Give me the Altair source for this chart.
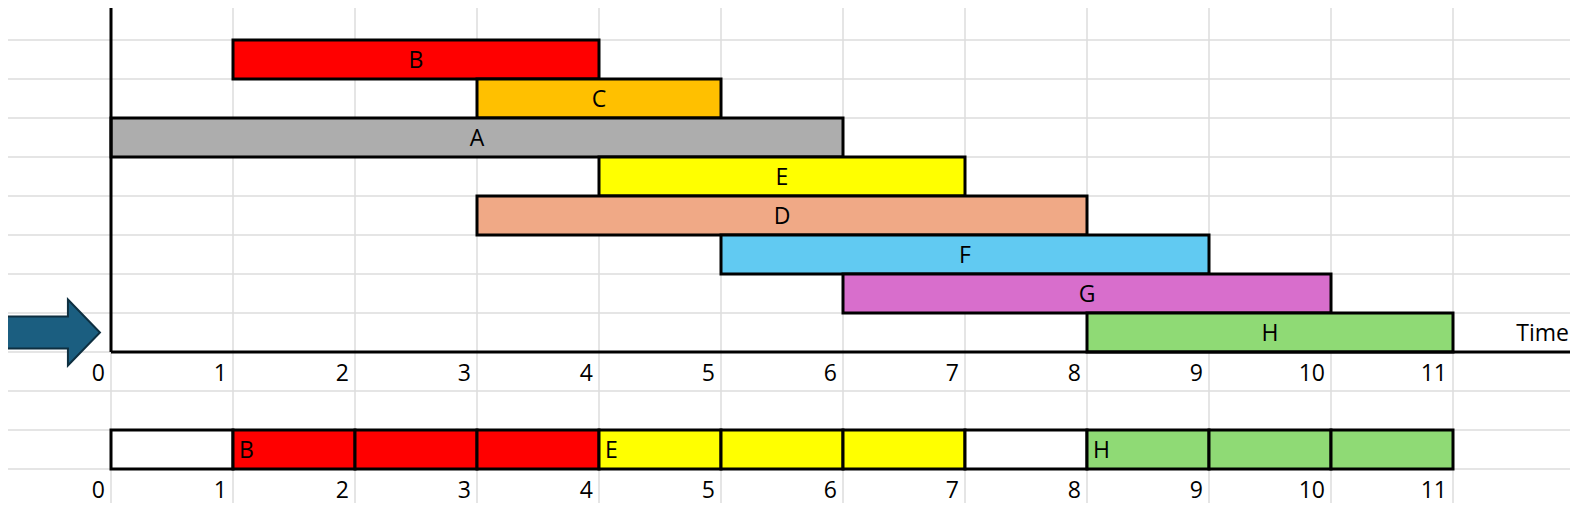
import altair as alt
import pandas as pd

# ---- data -------------------------------------------------------------
tasks = ["B", "C", "A", "E", "D", "F", "G", "H"]
task_start = [1, 3, 0, 4, 3, 5, 6, 8]
task_end = [4, 5, 6, 7, 8, 9, 10, 11]
task_row = [1, 2, 3, 4, 5, 6, 7, 8]
task_color = ["#FF0000", "#FFC000", "#ADADAD", "#FFFF00",
              "#F0A986", "#61CAF2", "#D86ECC", "#8FDA75"]

slot_start = [0, 1, 2, 3, 4, 5, 6, 7, 8, 9, 10]
slot_label = ["", "B", "", "", "E", "", "", "", "H", "", ""]
slot_color = ["#FFFFFF", "#FF0000", "#FF0000", "#FF0000", "#FFFF00", "#FFFF00",
              "#FFFF00", "#FFFFFF", "#8FDA75", "#8FDA75", "#8FDA75"]
slot_row = 11

tick_values = [0, 1, 2, 3, 4, 5, 6, 7, 8, 9, 10, 11]
tick_rows = [9, 12]

col_lines = [-1, 0, 1, 2, 3, 4, 5, 6, 7, 8, 9, 10, 11, 12]
row_lines = [0, 1, 2, 3, 4, 5, 6, 7, 8, 9, 10, 11, 12, 13]

axis_row = 9
axis_end = 12
time_label = "Time"

arrow_x = [-0.48]
arrow_row = [8.5]

FONT = "Open Sans"
FS = 23

# ---- frames -----------------------------------------------------------
W, H = 1562, 495
xs = alt.Scale(domain=[-103 / 122, (W - 103) / 122], nice=False, zero=False)
ys = alt.Scale(domain=[7 / 39, (H + 7) / 39], reverse=True, nice=False, zero=False)

bars = pd.DataFrame({"task": tasks, "start": task_start, "end": task_end,
                     "row": task_row, "color": task_color})
bars["row2"] = bars["row"] + 1
bars["mid"] = (bars["start"] + bars["end"]) / 2
bars["rowc"] = bars["row"] + 0.5

slots = pd.DataFrame({"start": slot_start, "label": slot_label, "color": slot_color})
slots["end"] = slots["start"] + 1
slots["row"] = slot_row
slots["row2"] = slot_row + 1
slots["rowc"] = slot_row + 0.5

ticks = pd.DataFrame([{"t": t, "rowc": r + 0.5, "lab": str(t)}
                      for r in tick_rows for t in tick_values])

cols = pd.DataFrame({"t": col_lines})
rows = pd.DataFrame({"r": row_lines})

X = lambda f: alt.X(f, scale=xs, axis=None)
Y = lambda f: alt.Y(f, scale=ys, axis=None)

grid_v = alt.Chart(cols).mark_rule(color="#DCDCDC", strokeWidth=1.5).encode(x=X("t:Q"))
grid_h = alt.Chart(rows).mark_rule(color="#DCDCDC", strokeWidth=1.5).encode(y=Y("r:Q"))

bar_rects = alt.Chart(bars).mark_rect(stroke="black", strokeWidth=3).encode(
    x=X("start:Q"), x2="end:Q", y=Y("row:Q"), y2="row2:Q",
    color=alt.Color("color:N", scale=None))
bar_text = alt.Chart(bars).mark_text(font=FONT, fontSize=FS, color="black",
                                     baseline="alphabetic", dy=8.5).encode(
    x=X("mid:Q"), y=Y("rowc:Q"), text="task:N")

slot_rects = alt.Chart(slots).mark_rect(stroke="black", strokeWidth=3).encode(
    x=X("start:Q"), x2="end:Q", y=Y("row:Q"), y2="row2:Q",
    color=alt.Color("color:N", scale=None))
slot_text = alt.Chart(slots).mark_text(font=FONT, fontSize=FS, color="black", align="left",
                                       baseline="alphabetic", dx=6, dy=8.5).encode(
    x=X("start:Q"), y=Y("rowc:Q"), text="label:N")

tick_text = alt.Chart(ticks).mark_text(font=FONT, fontSize=FS, color="black", align="right",
                                       baseline="alphabetic", dx=-6, dy=9).encode(
    x=X("t:Q"), y=Y("rowc:Q"), text="lab:N")

yline = alt.Chart(pd.DataFrame({"x": [0], "y": [-1], "y2": [axis_row]})).mark_rule(
    color="black", strokeWidth=3).encode(x=X("x:Q"), y=Y("y:Q"), y2="y2:Q")
xline = alt.Chart(pd.DataFrame({"x": [0], "x2": [axis_end], "y": [axis_row]})).mark_rule(
    color="black", strokeWidth=3).encode(x=X("x:Q"), x2="x2:Q", y=Y("y:Q"))

time_text = alt.Chart(pd.DataFrame({"x": [axis_end], "y": [axis_row - 0.5], "lab": [time_label]})).mark_text(
    font=FONT, fontSize=FS, color="black", align="right", baseline="alphabetic", dx=-6, dy=8.5).encode(
    x=X("x:Q"), y=Y("y:Q"), text="lab:N")

arrow_path = "M-1,-0.337 L0.326,-0.337 L0.326,-0.695 L1,0 L0.326,0.695 L0.326,0.337 L-1,0.337 Z"
arrow = alt.Chart(pd.DataFrame({"x": arrow_x, "y": arrow_row})).mark_point(
    shape=arrow_path, size=95 * 95, filled=True, fill="#1B5E80", stroke="#0E2F40",
    strokeWidth=2, opacity=1).encode(x=X("x:Q"), y=Y("y:Q"))

chart = alt.layer(grid_v, grid_h, bar_rects, bar_text, slot_rects, slot_text,
                  tick_text, yline, xline, time_text, arrow).properties(
    width=W, height=H, autosize=alt.AutoSizeParams(type="none"), padding=0,
    background="white").configure_view(stroke=None)

chart.save("out.html", embed_options={"renderer": "svg", "actions": False})
